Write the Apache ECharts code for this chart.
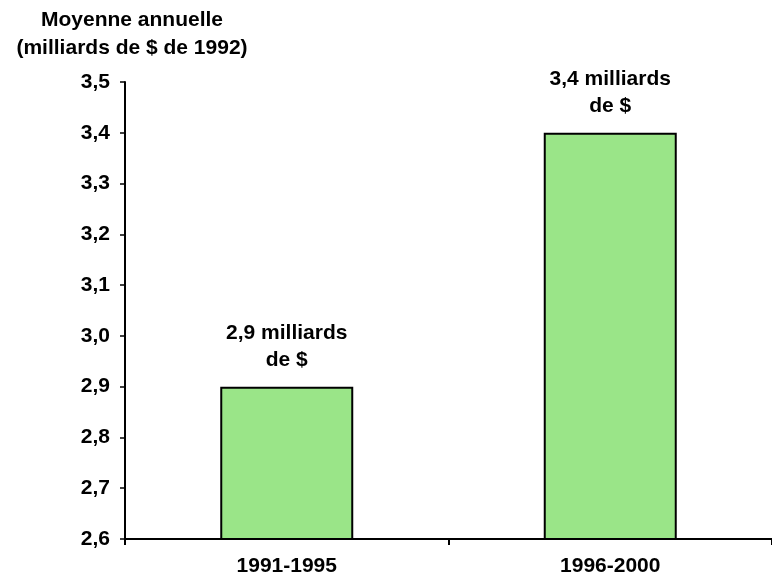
<!DOCTYPE html>
<html>
<head>
<meta charset="utf-8">
<script src="https://cdn.jsdelivr.net/npm/echarts@6/dist/echarts.min.js"></script>
<style>
html,body{margin:0;padding:0;background:#fff;}
#chart{width:772px;height:579px;}
</style>
</head>
<body>
<div id="chart"></div>
<script>
const categories = ['1991-1995', '1996-2000'];
const values = [2.9, 3.4];
const barLabels = ['2,9 milliards\nde $', '3,4 milliards\nde $'];
const yMin = 2.6, yMax = 3.5, yStep = 0.1;
const yTitle = 'Moyenne annuelle\n(milliards de $ de 1992)';

const FONT = '"Liberation Sans", Arial, sans-serif';
const chart = echarts.init(document.getElementById('chart'), null, {renderer: 'canvas'});
chart.setOption({
  animation: false,
  backgroundColor: '#ffffff',
  title: {
    text: yTitle,
    left: 127,
    top: 1,
    textAlign: 'center',
    textStyle: {fontFamily: FONT, fontSize: 21, fontWeight: 'bold', color: '#000', lineHeight: 28, align: 'center'}
  },
  grid: {left: 125, width: 654, top: 82, bottom: 40, containLabel: false},
  xAxis: {
    type: 'category',
    data: categories,
    boundaryGap: true,
    axisLine: {lineStyle: {color: '#000', width: 2}},
    axisTick: {show: true, alignWithLabel: false, length: 6, lineStyle: {color: '#000', width: 2}},
    axisLabel: {fontFamily: FONT, fontSize: 21, fontWeight: 'bold', color: '#000', margin: 17},
    splitLine: {show: false}
  },
  yAxis: {
    type: 'value',
    min: yMin,
    max: yMax,
    interval: yStep,
    axisLine: {show: true, lineStyle: {color: '#000', width: 2}},
    axisTick: {show: true, length: 5, lineStyle: {color: '#000', width: 1.5}},
    axisLabel: {
      fontFamily: FONT, fontSize: 21, fontWeight: 'bold', color: '#000', margin: 15,
      formatter: v => v.toFixed(1).replace('.', ',')
    },
    splitLine: {show: false}
  },
  series: [{
    type: 'bar',
    data: values.map((v, i) => ({value: v, label: {formatter: barLabels[i]}})),
    barWidth: 133,
    itemStyle: {color: '#9ae588', borderColor: '#000', borderWidth: 2},
    label: {
      show: true,
      position: 'top',
      distance: 13,
      fontFamily: FONT, fontSize: 21, fontWeight: 'bold', color: '#000', lineHeight: 27, align: 'center'
    }
  }]
});
</script>
</body>
</html>
